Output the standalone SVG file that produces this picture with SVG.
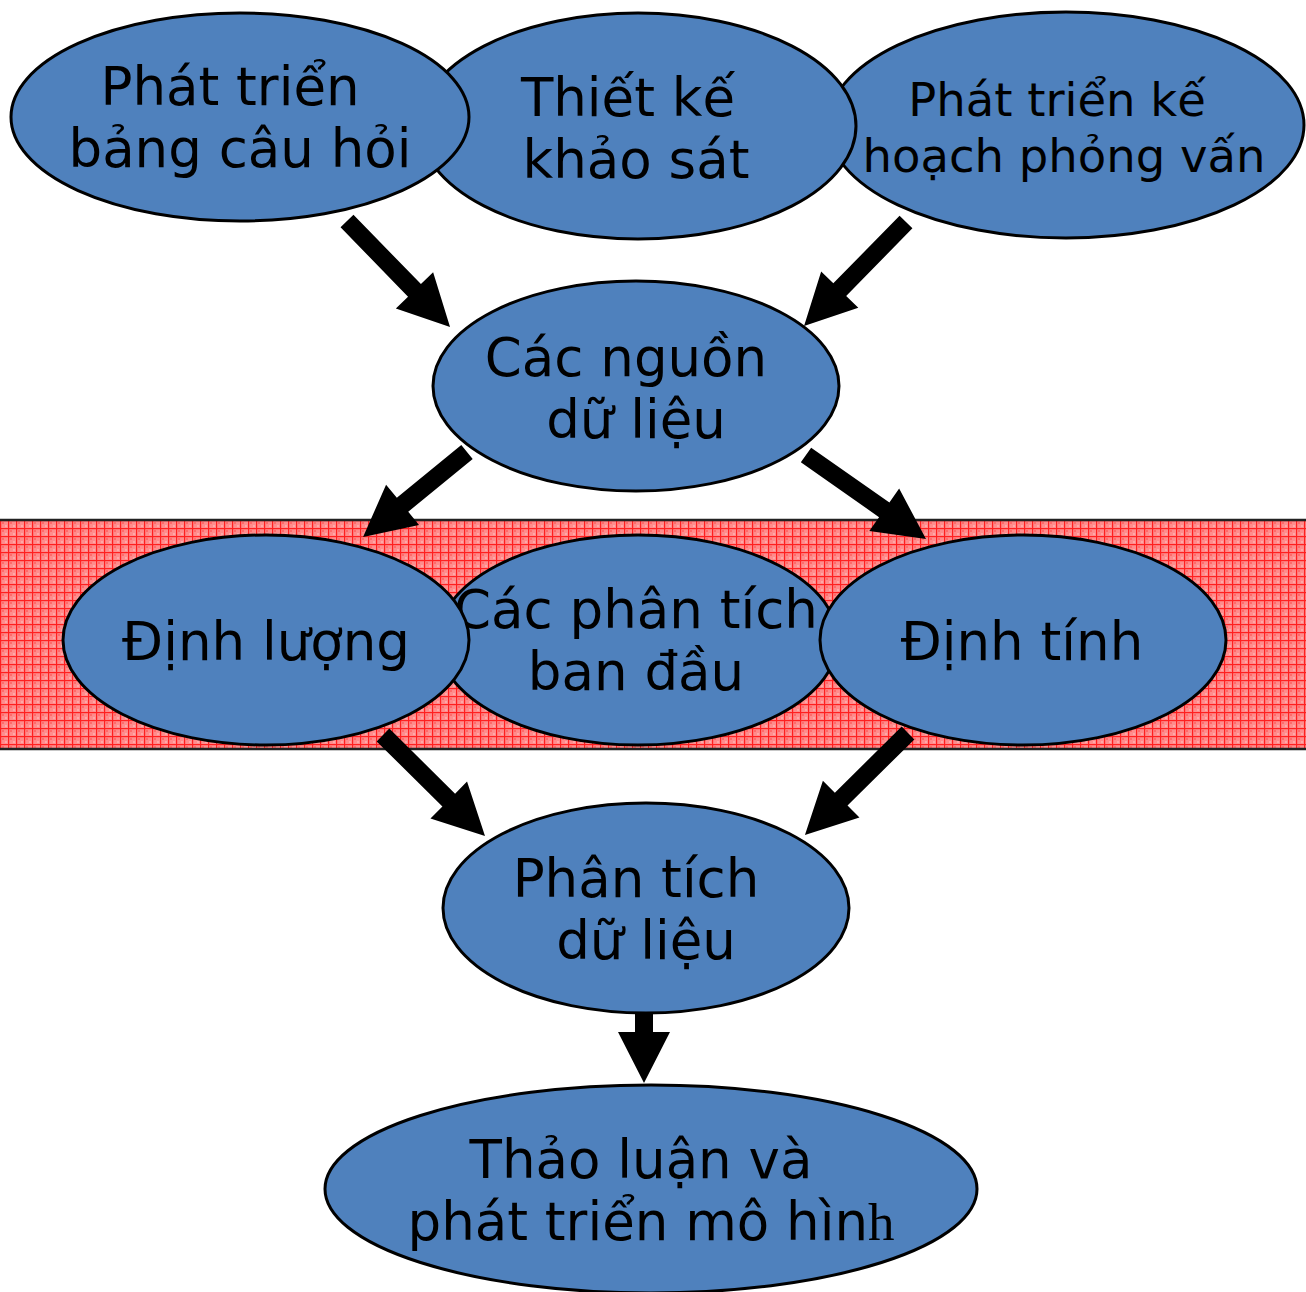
<svg xmlns="http://www.w3.org/2000/svg" width="1306" height="1292" viewBox="0 0 1306 1292">
<defs>
<pattern id="grid" width="8" height="8" patternUnits="userSpaceOnUse">
<rect width="8" height="8" fill="#ff8c8c"/>
<rect x="2" y="2" width="2" height="2" fill="#ff6a6a"/>
<rect x="5" y="5" width="2" height="2" fill="#ffa8a8"/>
<rect x="0" y="0" width="8" height="1.2" fill="#ff2020"/>
<rect x="0" y="0" width="1.2" height="8" fill="#ff2020"/>
</pattern>
</defs>
<style>
.node ellipse{fill:#4f81bd;stroke:#000;stroke-width:3}
.node text{font-family:"DejaVu Sans","Noto Sans",sans-serif;font-size:53px;fill:#000;text-anchor:middle}
.node text.sm{font-size:46.5px}
.arrow{fill:#000}
</style>
<rect id="band" x="-2" y="520" width="1310" height="229" fill="url(#grid)" stroke="#222" stroke-width="2.5"/>
<g id="n3" class="node">
<ellipse cx="1066" cy="125" rx="238" ry="113"/>
<text class="sm" x="1057" y="116">Phát triển kế</text>
<text class="sm" x="1064" y="172">hoạch phỏng vấn</text>
</g>
<g id="n2" class="node">
<ellipse cx="638" cy="126" rx="218" ry="113"/>
<text x="628" y="116">Thiết kế</text>
<text x="636" y="178">khảo sát</text>
</g>
<g id="n1" class="node">
<ellipse cx="240" cy="117" rx="229" ry="104"/>
<text x="230" y="105">Phát triển</text>
<text x="240" y="167">bảng câu hỏi</text>
</g>
<g id="n4" class="node">
<ellipse cx="636" cy="386" rx="203" ry="105"/>
<text x="626" y="376">Các nguồn</text>
<text x="636" y="438">dữ liệu</text>
</g>
<g id="n6" class="node">
<ellipse cx="638" cy="640" rx="200" ry="105"/>
<text x="636" y="628">Các phân tích</text>
<text x="636" y="690">ban đầu</text>
</g>
<g id="n5" class="node">
<ellipse cx="266" cy="640" rx="203" ry="105"/>
<text x="266" y="660">Định lượng</text>
</g>
<g id="n7" class="node">
<ellipse cx="1023" cy="640" rx="203" ry="105"/>
<text x="1022" y="660">Định tính</text>
</g>
<g id="n8" class="node">
<ellipse cx="646" cy="908" rx="203" ry="105"/>
<text x="636" y="897">Phân tích</text>
<text x="646" y="959">dữ liệu</text>
</g>
<g id="n9" class="node">
<ellipse cx="651" cy="1189" rx="326" ry="104"/>
<text x="641" y="1178">Thảo luận và</text>
<text x="651" y="1240">phát triển mô hìn<tspan font-family="'Liberation Serif',serif">h</tspan></text>
</g>
<g id="connectors">
<polygon class="arrow" transform="translate(347,221) rotate(45.8)" points="0,-9 96.8,-9 96.8,-26 147.8,0 96.8,26 96.8,9 0,9"/>
<polygon class="arrow" transform="translate(906,222) rotate(134.4)" points="0,-9 94.7,-9 94.7,-26 145.7,0 94.7,26 94.7,9 0,9"/>
<polygon class="arrow" transform="translate(467,452) rotate(140.7)" points="0,-9 83.3,-9 83.3,-26 134.3,0 83.3,26 83.3,9 0,9"/>
<polygon class="arrow" transform="translate(806,455) rotate(35)" points="0,-9 95.5,-9 95.5,-26 146.5,0 95.5,26 95.5,9 0,9"/>
<polygon class="arrow" transform="translate(383,735) rotate(44.7)" points="0,-9 92.5,-9 92.5,-26 143.5,0 92.5,26 92.5,9 0,9"/>
<polygon class="arrow" transform="translate(908,733) rotate(135.3)" points="0,-9 94,-9 94,-26 145,0 94,26 94,9 0,9"/>
<polygon class="arrow" transform="translate(644,1014) rotate(90)" points="0,-9 18,-9 18,-26 69,0 18,26 18,9 0,9"/>
</g>
</svg>
